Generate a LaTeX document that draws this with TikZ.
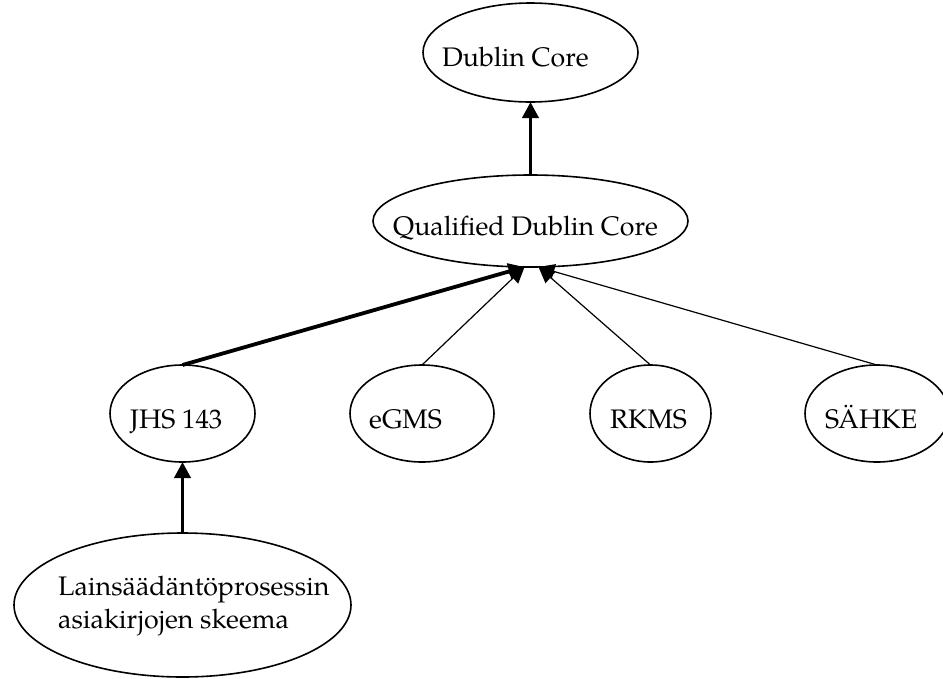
\documentclass[tikz,border=0pt]{standalone}
\usepackage{fontspec}
\setmainfont{TeX Gyre Pagella}
\usetikzlibrary{arrows.meta,shapes.geometric}

\tikzset{
  schema/.style={draw, ellipse, line width=1.6pt, inner sep=0pt, outer sep=0pt},
  caption/.style={anchor=base west, inner sep=0pt, font=\fontsize{26.8pt}{33pt}\selectfont},
  link/.style={line width=1.2pt, -{Triangle[length=16pt,width=15pt]}},
  strong/.style={line width=3.8pt, -{Triangle[length=16pt,width=16pt]}},
}

\begin{document}
\begin{tikzpicture}[x=1pt, y=-1pt]
  \useasboundingbox (0,0) rectangle (943,678);

  % schema ellipses
  \node[schema, minimum width=215pt, minimum height=99pt]  (dc)    at (530.5,52.5) {};
  \node[schema, minimum width=315pt, minimum height=92pt]  (qdc)   at (530.5,221)  {};
  \node[schema, minimum width=145pt, minimum height=97pt]  (jhs)   at (182.5,413.5) {};
  \node[schema, minimum width=144pt, minimum height=97pt]  (egms)  at (422,413.5)  {};
  \node[schema, minimum width=121pt, minimum height=97pt]  (rkms)  at (650.5,413.5) {};
  \node[schema, minimum width=144pt, minimum height=97pt]  (sahke) at (877,413.5)  {};
  \node[schema, minimum width=337pt, minimum height=144pt] (lains) at (182.5,605)  {};

  % labels
  \node[caption] (dcText)    at (442,66)  {Dublin Core};
  \node[caption] (qdcText)   at (393,235) {Qualified Dublin Core};
  \node[caption] (jhsText)   at (130,428) {JHS 143};
  \node[caption] (egmsText)  at (369,428) {eGMS};
  \node[caption] (rkmsText)  at (610,428) {RKMS};
  \node[caption] (sahkeText) at (825,428) {SÄHKE};
  \node[caption] (lainsTextA) at (58,595) {Lainsäädäntöprosessin};
  \node[caption] (lainsTextB) at (58,628) {asiakirjojen skeema};

  % refinement links
  \draw[strong] (qdc.north) -- (dc.south);
  \draw[strong] (lains.north) -- (jhs.south);
  \draw[strong] (jhs.north) -- ([xshift=-6pt]qdc.south);
  \draw[link]   (egms.north) -- ([xshift=-6pt]qdc.south);
  \draw[link]   (rkms.north) -- ([xshift=8pt]qdc.south);
  \draw[link]   (sahke.north) -- ([xshift=8pt]qdc.south);
\end{tikzpicture}
\end{document}
